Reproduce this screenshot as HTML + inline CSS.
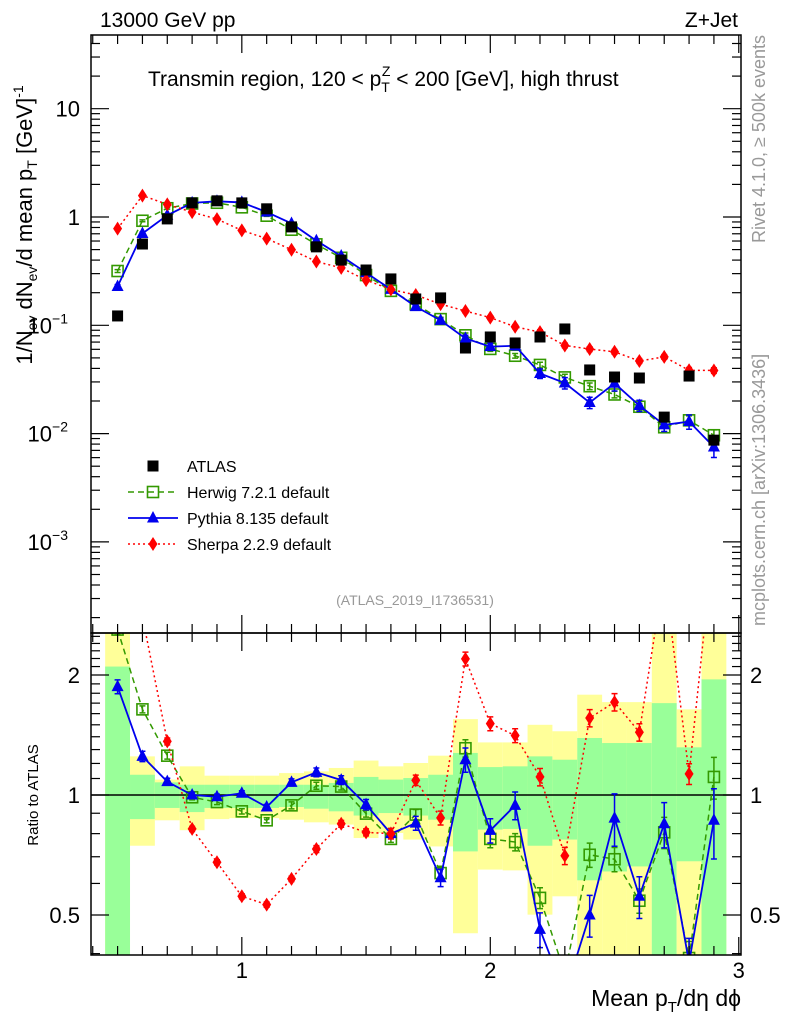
<!DOCTYPE html>
<html><head><meta charset="utf-8">
<style>
html,body{margin:0;padding:0;background:#fff;}
svg{display:block;font-family:"Liberation Sans","DejaVu Sans",sans-serif;}
</style></head>
<body>
<svg id="c" width="786" height="1024" viewBox="0 0 786 1024" xmlns="http://www.w3.org/2000/svg">
<defs>
<clipPath id="clipMain"><rect x="91" y="35" width="650" height="598"/></clipPath>
<clipPath id="clipRatio"><rect x="91" y="633" width="650" height="322"/></clipPath>
</defs>
<g id="bands" clip-path="url(#clipRatio)"></g>
<g id="series"></g>
<g id="axes"></g>
<text x="100" y="27" font-size="21">13000 GeV pp</text>
<text x="738" y="27" font-size="21" text-anchor="end">Z+Jet</text>
<text x="148" y="86" font-size="21">Transmin region, 120 &lt; p<tspan font-size="14" dy="6">T</tspan><tspan font-size="14" dx="-8" dy="-16">Z</tspan><tspan dy="10"> &lt; 200 [GeV], high thrust</tspan></text>
<text x="415" y="605" font-size="14" fill="#999" text-anchor="middle">(ATLAS_2019_I1736531)</text>
<text transform="translate(765,35) rotate(-90)" font-size="18" fill="#999" text-anchor="end">Rivet 4.1.0, ≥ 500k events</text>
<text transform="translate(765,626) rotate(-90)" font-size="18" fill="#999" text-anchor="start">mcplots.cern.ch [arXiv:1306.3436]</text>
<text transform="translate(32,225) rotate(-90)" font-size="22" text-anchor="middle">1/N<tspan font-size="14" dy="5">ev</tspan><tspan dy="-5"> dN</tspan><tspan font-size="14" dy="5">ev</tspan><tspan dy="-5">/d mean p</tspan><tspan font-size="14" dy="5">T</tspan><tspan dy="-5"> [GeV]</tspan><tspan font-size="14" dy="-9">-1</tspan></text>
<text transform="translate(38,795) rotate(-90)" font-size="15" text-anchor="middle">Ratio to ATLAS</text>
<text x="741" y="1006" font-size="23" text-anchor="end">Mean p<tspan font-size="15" dy="6">T</tspan><tspan dy="-6">/dη dϕ</tspan></text>
<g id="legend"></g>
</svg>
<script>
const binCenters=[0.5,0.6,0.7,0.8,0.9,1.0,1.1,1.2,1.3,1.4,1.5,1.6,1.7,1.8,1.9,2.0,2.1,2.2,2.3,2.4,2.5,2.6,2.7,2.8,2.9];
const atlasValues=[0.122,0.563,0.96,1.35,1.41,1.35,1.19,0.81,0.53,0.40,0.324,0.268,0.175,0.179,0.0617,0.078,0.0687,0.078,0.0925,0.0387,0.0333,0.0326,0.0142,0.034,0.0087];
const herwigRatio=[2.6,1.64,1.255,0.987,0.96,0.91,0.864,0.942,1.055,1.05,0.898,0.776,0.893,0.637,1.31,0.776,0.762,0.552,0.357,0.708,0.69,0.543,0.806,0.39,1.11];
const pythiaRatio=[1.87,1.25,1.08,1.0,0.99,1.01,0.933,1.076,1.14,1.09,0.946,0.80,0.85,0.62,1.226,0.815,0.942,0.46,0.317,0.50,0.875,0.557,0.847,0.38,0.864];
const sherpaRatio=[6.4,2.8,1.363,0.822,0.678,0.557,0.531,0.616,0.732,0.847,0.806,0.80,1.089,0.876,2.195,1.51,1.41,1.11,0.704,1.56,1.71,1.437,3.6,1.13,4.4];
const pythiaErr=[0.04,0.03,0.02,0.015,0.015,0.015,0.015,0.02,0.025,0.025,0.03,0.03,0.04,0.05,0.07,0.07,0.08,0.1,0.12,0.12,0.15,0.12,0.13,0.15,0.2];
const herwigErr=[0.03,0.02,0.02,0.015,0.015,0.015,0.015,0.02,0.02,0.02,0.02,0.02,0.03,0.04,0.05,0.05,0.05,0.06,0.07,0.07,0.07,0.07,0.09,0.1,0.12];
const sherpaErr=[0.02,0.02,0.02,0.015,0.015,0.015,0.015,0.015,0.02,0.02,0.02,0.03,0.03,0.04,0.04,0.04,0.04,0.05,0.05,0.05,0.05,0.05,0.05,0.06,0.06];
const yellowUp=[2.55,1.25,1.093,1.18,1.118,1.118,1.118,1.135,1.146,1.169,1.22,1.18,1.203,1.255,1.55,1.355,1.355,1.50,1.445,1.785,1.71,1.71,2.55,1.64,2.55];
const greenUp=[2.10,1.124,1.076,1.061,1.061,1.061,1.061,1.061,1.061,1.072,1.11,1.093,1.103,1.124,1.275,1.175,1.18,1.25,1.226,1.39,1.35,1.35,1.70,1.317,1.95];
const greenDown=[0.3,0.87,0.928,0.906,0.928,0.928,0.928,0.933,0.924,0.91,0.888,0.901,0.888,0.867,0.722,0.819,0.822,0.746,0.773,0.611,0.643,0.662,0.3,0.682,0.3];
const yellowDown=[0.3,0.746,0.864,0.816,0.87,0.875,0.875,0.867,0.854,0.843,0.78,0.803,0.773,0.743,0.45,0.65,0.647,0.501,0.557,0.3,0.3,0.3,0.3,0.3,0.3];
const mainTickLabels=["10","1","10⁻¹","10⁻²","10⁻³"];
const ratioTickLabels=["2","1","0.5"];
const xTickLabels=["1","2","3"];

const NS="http://www.w3.org/2000/svg";
const X0=91,X1=741,XMIN=0.393,XMAX=3.009;
function xs(v){return X0+(v-XMIN)/(XMAX-XMIN)*(X1-X0);}
function ys(v){return 217-108.3*Math.log10(v);}
function yr(r){return 795-120*Math.log2(r);}
function el(tag,attrs,parent){const e=document.createElementNS(NS,tag);for(const k in attrs)e.setAttribute(k,attrs[k]);parent.appendChild(e);return e;}
const bands=document.getElementById('bands'),ser=document.getElementById('series'),axes=document.getElementById('axes'),leg=document.getElementById('legend');

binCenters.forEach((c,i)=>{
  const xa=xs(c-0.05),xb=xs(c+0.05);
  const yb=el('rect',{x:xa,y:yr(yellowUp[i]),width:xb-xa,height:yr(yellowDown[i])-yr(yellowUp[i]),fill:'#ffff99'},bands);
  
  
  const gb=el('rect',{x:xa,y:yr(greenUp[i]),width:xb-xa,height:yr(greenDown[i])-yr(greenUp[i]),fill:'#99ff99'},bands);
  
  
});
const one=el('line',{x1:X0,x2:X1,y1:yr(1),y2:yr(1),stroke:'#000','stroke-width':1.5},ser);



function marker(type,x,y,color,parent){
  let m;
  if(type==='sq') m=el('rect',{x:x-5.5,y:y-5.5,width:11,height:11,fill:'#000'},parent);
  else if(type==='osq') m=el('rect',{x:x-5.5,y:y-5.5,width:11,height:11,fill:'none',stroke:color,'stroke-width':1.6},parent);
  else if(type==='tri') m=el('polygon',{points:`${x},${y-7} ${x-6},${y+4.5} ${x+6},${y+4.5}`,fill:color},parent);
  else m=el('polygon',{points:`${x},${y-7} ${x-4.5},${y} ${x},${y+7} ${x+4.5},${y}`,fill:color},parent);
  return m;
}
const mcs=[
 {name:'herwig',ratio:herwigRatio,err:herwigErr,color:'#339900',dash:'6,4',mk:'osq',w:1.5},
 {name:'pythia',ratio:pythiaRatio,err:pythiaErr,color:'#0000ee',dash:'',mk:'tri',w:1.8},
 {name:'sherpa',ratio:sherpaRatio,err:sherpaErr,color:'#ff0000',dash:'2,3',mk:'dia',w:1.5}
];
const gMain=el('g',{'clip-path':'url(#clipMain)'},ser);


const gRat=el('g',{'clip-path':'url(#clipRatio)'},ser);



mcs.forEach(s=>{
  const vals=s.ratio.map((r,i)=>r*atlasValues[i]);
  const pm=vals.map((v,i)=>xs(binCenters[i])+','+ys(v)).join(' ');
  const l1=el('polyline',{points:pm,fill:'none',stroke:s.color,'stroke-width':s.w,'stroke-dasharray':s.dash},gMain);
  
  
  const pr=s.ratio.map((r,i)=>xs(binCenters[i])+','+yr(r)).join(' ');
  const l2=el('polyline',{points:pr,fill:'none',stroke:s.color,'stroke-width':s.w,'stroke-dasharray':s.dash},gRat);
  
  
  binCenters.forEach((c,i)=>{
    const x=xs(c);
    [[gMain,ys(vals[i]*(1+s.err[i])),ys(vals[i]*(1-s.err[i])),ys(vals[i])],[gRat,yr(s.ratio[i]*(1+s.err[i])),yr(s.ratio[i]*(1-s.err[i])),yr(s.ratio[i])]].forEach(([g,ya,yb,yc],k)=>{
      const eb=el('path',{d:`M${x},${ya}V${yb}M${x-3},${ya}H${x+3}M${x-3},${yb}H${x+3}`,stroke:s.color,'stroke-width':1.5,fill:'none'},g);
      
      
      const m=marker(s.mk,x,yc,s.color,g);
      
      
    });
  });
});
binCenters.forEach((c,i)=>{
  const m=marker('sq',xs(c),ys(atlasValues[i]),'#000',gMain);
  
  
});

[[35,633],[633,955]].forEach(([a,b],k)=>{
  const f=el('rect',{x:X0,y:a,width:X1-X0,height:b-a,fill:'none',stroke:'#000','stroke-width':1.5},axes);
  
  
});
function tick(x1,y1,x2,y2){const t=el('line',{x1,y1,x2,y2,stroke:'#000','stroke-width':1.2},axes);}
for(let d=-4;d<=1;d++){for(let m=1;m<10;m++){const v=m*Math.pow(10,d);const y=ys(v);if(y<35||y>633)continue;const L=m===1?18:9;tick(X0,y,X0+L,y);tick(X1,y,X1-L,y);}}
[10,1,0.1,0.01,0.001].forEach((v,i)=>{
  const lab=mainTickLabels[i];const y=ys(v);
  const t=el('text',{x:80,y:y+8,'font-size':22,'text-anchor':'end'},axes);
  if(lab.length>2){t.textContent='10';const sp=el('tspan',{'font-size':14,dy:-10},t);sp.textContent=lab.slice(2).replace('⁻','−').replace('¹','1').replace('²','2').replace('³','3');t.setAttribute('x',68);}
  else t.textContent=lab;
  
  
});
[0.4,0.5,0.6,0.7,0.8,0.9,1,1.1,1.2,1.3,1.4,1.5,1.6,1.7,1.8,1.9,2,2.1,2.2,2.3,2.4,2.5].forEach(r=>{const y=yr(r);if(y<633||y>955)return;const L=(r===0.5||r===1||r===2)?18:9;tick(X0,y,X0+L,y);tick(X1,y,X1-L,y);});
[2,1,0.5].forEach((r,i)=>{
  [[80,'end'],[750,'start']].forEach(([x,a])=>{
    const t=el('text',{x,y:yr(r)+8,'font-size':22,'text-anchor':a},axes);t.textContent=ratioTickLabels[i];
    
    
  });
});
for(let k=4;k<=30;k++){const v=k/10;const x=xs(v);if(x<X0)continue;const L=(k%10===0)?18:9;tick(x,633,x,633-L);tick(x,35,x,35+L);tick(x,955,x,955-L);tick(x,633,x,633+L);}
[1,2,3].forEach((v,i)=>{const t=el('text',{x:xs(v),y:978,'font-size':22,'text-anchor':'middle'},axes);t.textContent=xTickLabels[i];

});

const legItems=[['ATLAS','sq','#000','',0],['Herwig 7.2.1 default','osq','#339900','6,4',1.5],['Pythia 8.135 default','tri','#0000ee','',1.8],['Sherpa 2.2.9 default','dia','#ff0000','2,3',1.5]];
legItems.forEach((it,i)=>{
  const y=466+i*26;
  const g=el('g',{},leg);
  
  
  if(i>0)el('line',{x1:128,x2:178,y1:y,y2:y,stroke:it[2],'stroke-width':it[4],'stroke-dasharray':it[3]},g);
  marker(it[1],153,y,it[2],g);
  const t=el('text',{x:187,y:y+6,'font-size':16},g);t.textContent=it[0];
});
</script>
</body></html>
